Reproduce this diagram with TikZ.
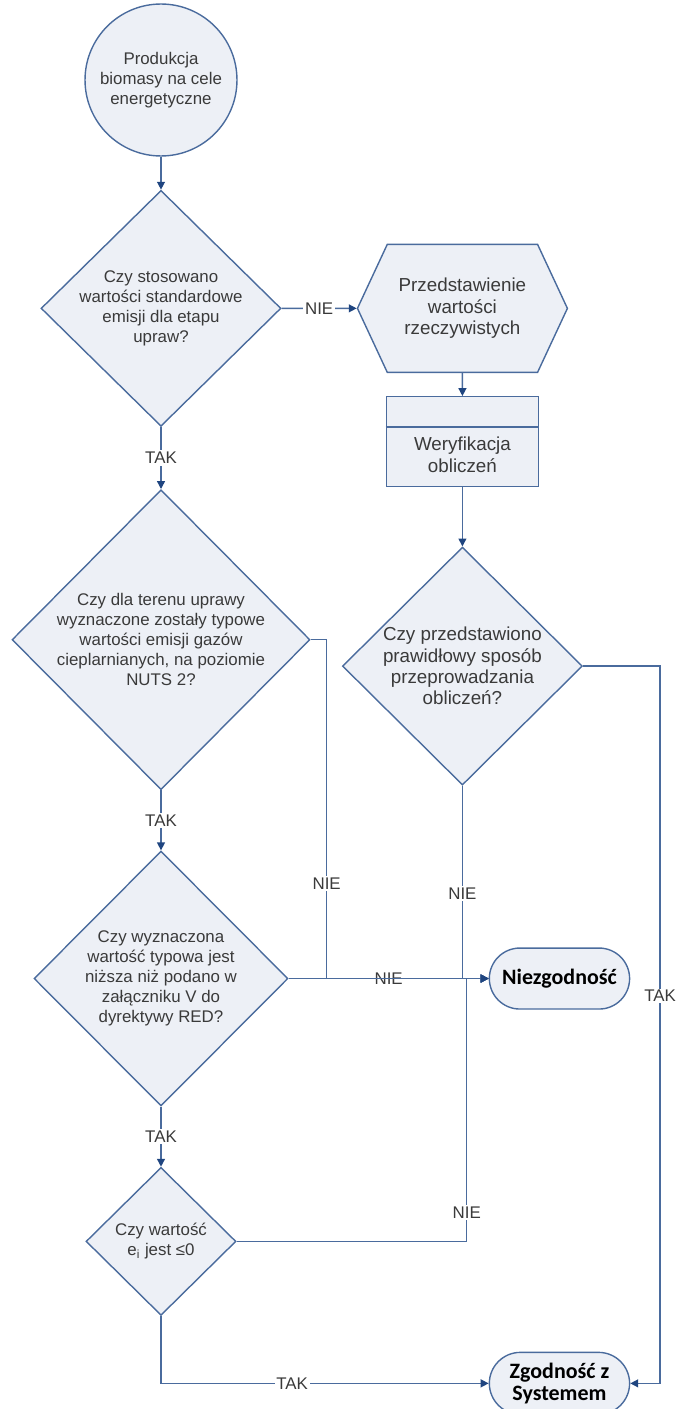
\documentclass[tikz,border=0pt]{standalone}
\usepackage{fontspec}
\setmainfont{Liberation Sans}
\newfontfamily\termfont{Carlito}
\usepackage{tikz}
\usetikzlibrary{shapes.geometric, shapes.misc, shapes.symbols, arrows.meta, positioning}
\definecolor{flowline}{HTML}{4A6B9D}
\definecolor{flowtip}{HTML}{1F4580}
\definecolor{flowfill}{HTML}{EDF0F6}
\definecolor{flowtext}{HTML}{3A3A3A}

\begin{document}
\begin{tikzpicture}[
    x=0.02cm, y=-0.02cm,
    qtext/.style={text=flowtext, align=center, font=\fontsize{9.6}{11.4}\selectfont},
    rtext/.style={text=flowtext, align=center, font=\fontsize{10.7}{12.2}\selectfont},
    start/.style={circle, draw=flowline, fill=flowfill, line width=0.8pt, minimum size=3.04cm, qtext},
    decision/.style={diamond, draw=flowline, fill=flowfill, line width=0.8pt, inner sep=0pt},
    process/.style={signal, signal to=east and west, signal pointer angle=130, draw=flowline, fill=flowfill, line width=0.8pt, minimum width=4.2cm, minimum height=2.56cm, inner sep=0pt, rtext},
    check/.style={rectangle, draw=flowline, fill=flowfill, line width=0.8pt, minimum width=3.04cm, minimum height=1.8cm},
    terminal/.style={rounded rectangle, draw=flowline, fill=flowfill, line width=0.8pt, minimum width=3.04cm, minimum height=1.22cm, align=center, font=\termfont\bfseries\fontsize{12.5}{12.5}\selectfont},
    arrow/.style={-{Triangle[length=4.5pt, width=4.5pt, color=flowtip]}, draw=flowline, line width=0.8pt},
    flow/.style={draw=flowline, line width=0.8pt},
    answer/.style={fill=white, inner sep=1pt, text=flowtext, font=\fontsize{9.6}{11.4}\selectfont}
]
\useasboundingbox (0,0) rectangle (677,1409);

\node[start] (prod) at (161,80) {Produkcja\\biomasy na cele\\energetyczne};
\node[decision, below=0.66cm of prod, minimum width=4.8cm, minimum height=4.72cm, label={[qtext]center:{Czy stosowano\\wartości standardowe\\emisji dla etapu\\upraw?}}] (std) {};
\node[decision, below=1.24cm of std, minimum width=5.96cm, minimum height=6cm, label={[qtext]center:{Czy dla terenu uprawy\\wyznaczone zostały typowe\\wartości emisji gazów\\cieplarnianych, na poziomie\\NUTS 2?}}] (nuts) {};
\node[decision, below=1.2cm of nuts, minimum width=5.08cm, minimum height=5.1cm, label={[qtext]center:{Czy wyznaczona\\wartość typowa jest\\niższa niż podano w\\załączniku V do\\dyrektywy RED?}}] (typ) {};
\node[decision, below=1.2cm of typ, minimum width=3cm, minimum height=2.96cm, label={[qtext]center:{Czy wartość\\e\textsubscript{i} jest ≤0}}] (small) {};

\node[process, right=1.5cm of std] (real) {Przedstawienie\\wartości\\rzeczywistych};
\node[check, below=0.46cm of real, label={[rtext, yshift=-0.26cm]center:{Weryfikacja\\obliczeń}}] (verify) {};
\draw[flow] ([yshift=-0.62cm]verify.north west) -- ([yshift=-0.62cm]verify.north east);
\node[decision, below=1.18cm of verify, minimum width=4.8cm, minimum height=4.76cm, label={[rtext]center:{Czy przedstawiono\\prawidłowy sposób\\przeprowadzania\\obliczeń?}}] (method) {};

\node[terminal, right=4cm of typ] (nz) {Niezgodność};
\node[terminal, below=6.84cm of nz, minimum height=1.24cm] (zg) {Zgodność z\\Systemem};

\draw[arrow] (prod) -- (std);
\draw[arrow] (std) -- node[answer] {TAK} (nuts);
\draw[arrow] (nuts) -- node[answer] {TAK} (typ);
\draw[arrow] (typ) -- node[answer] {TAK} (small);
\draw[arrow] (std) -- node[answer] {NIE} (real);
\draw[arrow] (real) -- (verify);
\draw[arrow] (verify) -- (method);

\draw[arrow] (typ) -- node[answer] {NIE} (nz);
\draw[arrow] (nuts.east) -- ++(16,0) |- node[answer, pos=0.36] {NIE} (nz.west);
\draw[arrow] (method.south) |- node[answer, pos=0.28] {NIE} (nz.west);
\draw[arrow] (small.east) -- ++(230,0) |- node[answer, pos=0.055] {NIE} (nz.west);

\draw[arrow] (method.east) -- ++(77,0) |- node[answer, inner sep=0.5pt, pos=0.23] {TAK} (zg.east);
\draw[arrow] (small.south) |- node[answer, pos=0.7] {TAK} (zg.west);

\end{tikzpicture}
\end{document}
